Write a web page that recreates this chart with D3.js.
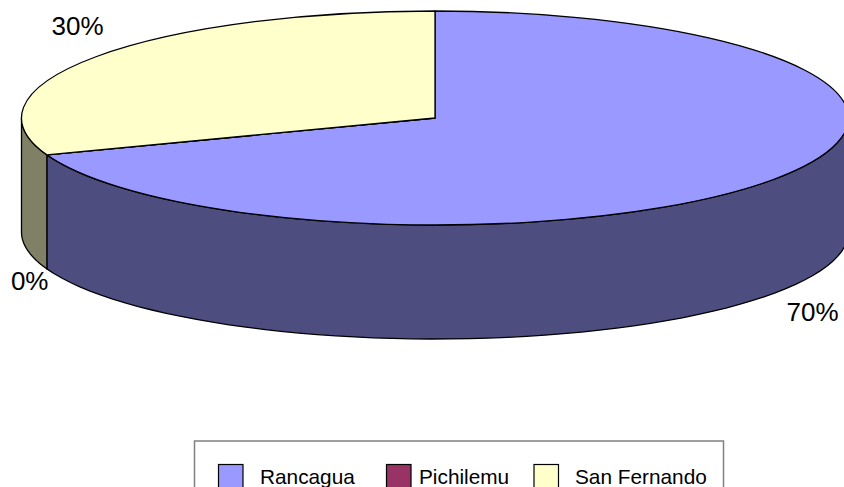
<!DOCTYPE html>
<html><head><meta charset="utf-8">
<style>html,body{margin:0;padding:0;background:#fff;overflow:hidden}svg{display:block}text{font-family:"Liberation Sans",Arial,sans-serif;fill:#000}</style>
<script src="https://cdnjs.cloudflare.com/ajax/libs/d3/7.8.5/d3.min.js"></script>
</head><body><svg id="c" width="844" height="487"></svg>
<script>
const categories = ["Rancagua", "Pichilemu", "San Fernando"];
const values = [69.4, 0, 30.6];
const percentLabels = ["70%", "0%", "30%"];
const topColors = ["#9999ff", "#993366", "#ffffcc"];
const sideColors = ["#4d4d80", "#4d1a33", "#808066"];
const labelPositions = [[812.5, 320.5], [29.7, 290], [77.5, 34.5]];
const legendSwatchX = [218.5, 386.5, 534];
const legendTextX = [260, 419, 575];

const cx = 435, cy = 118, rx = 413.5, ry = 107, depth = 114;
const svg = d3.select("#c");
const pie = d3.pie().value(d => d).sort(null);
const arcs = pie(values);
const px = a => cx + rx * Math.sin(a);
const py = a => cy - ry * Math.cos(a);

const wall = (a0, a1) => {
  const s = Math.max(a0, Math.PI / 2), e = Math.min(a1, 3 * Math.PI / 2);
  if (e <= s) return null;
  const p = d3.range(0, 61).map(i => s + (e - s) * i / 60);
  const pts = p.map(a => [px(a), py(a)]).concat(p.slice().reverse().map(a => [px(a), py(a) + depth]));
  return d3.line()(pts) + "Z";
};
svg.append("g").selectAll("path").data(arcs).join("path")
  .attr("d", d => wall(d.startAngle, d.endAngle))
  .attr("fill", (d, i) => sideColors[i])
  .attr("stroke", "#000").attr("stroke-width", 1.3).attr("stroke-linejoin", "round");

const arc = d3.arc().innerRadius(0).outerRadius(rx);
svg.append("g").attr("transform", `translate(${cx},${cy}) scale(1,${ry / rx})`)
  .selectAll("path").data(arcs).join("path")
  .attr("d", arc)
  .attr("fill", (d, i) => topColors[i])
  .attr("stroke", "#000").attr("stroke-width", 1.3)
  .attr("vector-effect", "non-scaling-stroke").attr("stroke-linejoin", "round");

svg.append("g").selectAll("text").data(percentLabels).join("text")
  .attr("x", (d, i) => labelPositions[i][0]).attr("y", (d, i) => labelPositions[i][1])
  .attr("text-anchor", "middle").attr("font-size", 26)
  .text(d => d);

svg.append("rect").attr("x", 194.5).attr("y", 441).attr("width", 529).attr("height", 70)
  .attr("fill", "#fff").attr("stroke", "#808080").attr("stroke-width", 1.5);
const lg = svg.append("g");
lg.selectAll("rect").data(categories).join("rect")
  .attr("x", (d, i) => legendSwatchX[i]).attr("y", 464.5).attr("width", 24.5).attr("height", 24.5)
  .attr("fill", (d, i) => topColors[i]).attr("stroke", "#000").attr("stroke-width", 1.2);
lg.selectAll("text").data(categories).join("text")
  .attr("x", (d, i) => legendTextX[i]).attr("y", 483.5).attr("font-size", 20.8).text(d => d);
</script></body></html>
